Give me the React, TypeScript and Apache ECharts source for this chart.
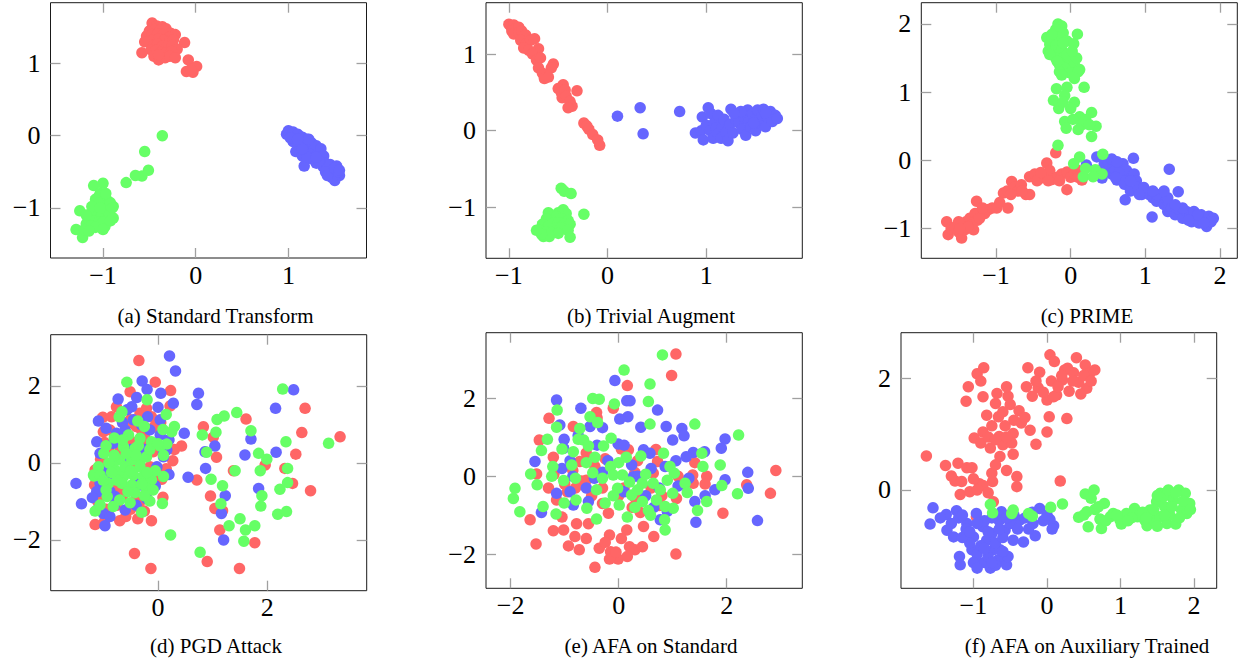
import React, { useEffect, useRef } from "react";
import * as echarts from "echarts";

const RED = "#ff6666";
const BLUE = "#6666ff";
const GREEN = "#66ff66";
const FONT = '"Liberation Serif", "Times New Roman", serif';

const captions = [
  "(a) Standard Transform",
  "(b) Trivial Augment",
  "(c) PRIME",
  "(d) PGD Attack",
  "(e) AFA on Standard",
  "(f) AFA on Auxiliary Trained",
];

const xTicks = [[-1, 0, 1], [-1, 0, 1], [-1, 0, 1, 2], [0, 2], [-2, 0, 2], [-1, 0, 1, 2]];
const yTicks = [[-1, 0, 1], [-1, 0, 1], [-1, 0, 1, 2], [-2, 0, 2], [-2, 0, 2], [0, 2]];
const xRange = [[-1.566, 1.842], [-1.232, 1.973], [-2.0, 2.231], [-1.963, 3.817], [-2.457, 3.4], [-1.985, 2.307]];
const yRange = [[-1.694, 1.842], [-1.665, 1.67], [-1.437, 2.311], [-3.317, 3.332], [-2.88, 3.69], [-1.761, 2.817]];

// (a) Standard Transform
const aRed = [[-0.47,1.56],[-0.42,1.52],[-0.36,1.51],[-0.5,1.45],[-0.44,1.47],[-0.38,1.46],[-0.32,1.48],[-0.27,1.42],[-0.22,1.4],[-0.53,1.38],[-0.47,1.4],[-0.41,1.41],[-0.35,1.4],[-0.29,1.36],[-0.12,1.29],[-0.5,1.31],[-0.45,1.33],[-0.4,1.34],[-0.34,1.32],[-0.28,1.3],[-0.24,1.33],[-0.55,1.3],[-0.46,1.25],[-0.41,1.27],[-0.36,1.24],[-0.31,1.22],[-0.25,1.25],[-0.2,1.2],[-0.48,1.19],[-0.43,1.18],[-0.37,1.16],[-0.32,1.15],[-0.26,1.17],[-0.58,1.15],[-0.45,1.1],[-0.4,1.05],[-0.33,1.08],[-0.28,1.1],[-0.22,1.08],[-0.4,1.12],[-0.08,1.05],[0.01,0.96],[-0.03,0.88],[-0.1,0.89],[-0.05,0.92]];
const aBlue = [[0.98,0.02],[1.0,0.07],[1.03,0.0],[1.05,0.05],[1.07,-0.03],[1.1,0.02],[1.12,-0.08],[1.15,-0.02],[1.13,-0.15],[1.17,-0.1],[1.2,-0.05],[1.18,-0.2],[1.22,-0.15],[1.25,-0.1],[1.08,-0.22],[1.15,-0.28],[1.23,-0.25],[1.27,-0.2],[1.3,-0.14],[1.17,-0.42],[1.28,-0.3],[1.32,-0.25],[1.35,-0.18],[1.3,-0.38],[1.35,-0.33],[1.38,-0.28],[1.4,-0.38],[1.37,-0.42],[1.42,-0.45],[1.45,-0.4],[1.44,-0.5],[1.48,-0.47],[1.5,-0.55],[1.52,-0.42],[1.55,-0.55],[1.5,-0.62],[1.47,-0.58],[1.25,-0.32],[1.2,-0.3],[1.1,-0.12],[1.4,-0.5],[1.33,-0.35],[1.53,-0.5],[1.05,-0.08],[1.15,-0.18],[1.3,-0.3],[1.42,-0.55],[1.5,-0.45],[1.55,-0.48],[1.22,-0.05],[1.02,-0.03],[1.1,-0.05]];
const aGreen = [[-0.36,0.0],[-0.55,-0.22],[-0.51,-0.48],[-0.58,-0.56],[-0.65,-0.55],[-0.75,-0.65],[-1.0,-0.66],[-1.1,-0.69],[-1.25,-1.04],[-1.29,-1.3],[-1.22,-1.41],[-0.89,-0.98],[-0.98,-1.26],[-0.89,-1.14],[-1.05,-0.85],[-1.0,-0.88],[-0.95,-0.9],[-1.08,-0.95],[-1.02,-0.95],[-0.96,-0.97],[-0.92,-0.93],[-1.1,-1.02],[-1.05,-1.03],[-1.0,-1.05],[-0.95,-1.05],[-1.12,-1.1],[-1.07,-1.1],[-1.02,-1.12],[-0.97,-1.12],[-1.15,-1.17],[-1.1,-1.18],[-1.05,-1.2],[-1.0,-1.2],[-1.18,-1.22],[-1.13,-1.25],[-1.08,-1.27],[-1.2,-1.3],[-1.15,-1.32],[-1.03,-0.8],[-1.08,-0.88],[-0.93,-1.08],[-0.9,-1.0],[-0.92,-1.18],[-1.0,-1.3],[-1.05,-0.93],[-0.97,-0.8],[-1.12,-0.98],[-1.18,-1.1],[-1.03,-1.0]];

// (b) Trivial Augment
const bRed = [[-1.0,1.39],[-0.98,1.36],[-0.95,1.38],[-0.97,1.3],[-0.93,1.33],[-0.9,1.35],[-0.95,1.26],[-0.9,1.28],[-0.87,1.3],[-0.86,1.22],[-0.83,1.25],[-0.88,1.18],[-0.82,1.14],[-0.78,1.18],[-0.74,1.2],[-0.85,1.08],[-0.8,1.05],[-0.7,1.07],[-0.76,1.0],[-0.72,0.92],[-0.68,0.95],[-0.55,0.87],[-0.57,0.82],[-0.7,0.82],[-0.66,0.75],[-0.64,0.68],[-0.6,0.7],[-0.45,0.6],[-0.5,0.55],[-0.47,0.5],[-0.43,0.53],[-0.31,0.52],[-0.46,0.43],[-0.42,0.45],[-0.38,0.38],[-0.36,0.32],[-0.4,0.3],[-0.24,0.1],[-0.21,0.06],[-0.19,0.02],[-0.15,-0.05],[-0.08,-0.19],[-0.1,-0.12]];
const bBlue = [[0.1,0.19],[0.33,0.3],[0.36,-0.04],[0.73,0.25],[0.89,-0.03],[0.95,0.0],[0.97,-0.12],[0.96,0.18],[1.0,0.07],[1.02,0.3],[1.04,0.0],[1.05,0.22],[1.07,-0.1],[1.08,0.1],[1.1,0.04],[1.12,-0.04],[1.12,0.2],[1.15,-0.1],[1.16,0.05],[1.18,0.15],[1.2,-0.02],[1.22,-0.13],[1.24,0.08],[1.25,0.28],[1.27,-0.03],[1.3,0.15],[1.33,0.1],[1.36,0.02],[1.38,0.18],[1.4,-0.06],[1.42,0.27],[1.43,0.12],[1.45,0.05],[1.47,0.22],[1.5,0.15],[1.5,0.0],[1.52,0.27],[1.55,0.1],[1.57,0.2],[1.58,0.28],[1.6,0.05],[1.62,0.18],[1.65,0.25],[1.67,0.12],[1.7,0.2],[1.72,0.16],[1.35,0.25],[1.28,0.23],[1.6,0.23],[1.48,0.1]];
const bGreen = [[-0.47,-0.75],[-0.44,-0.79],[-0.37,-0.82],[-0.24,-1.09],[-0.45,-1.03],[-0.42,-1.08],[-0.5,-1.07],[-0.6,-1.07],[-0.57,-1.12],[-0.52,-1.12],[-0.47,-1.15],[-0.4,-1.17],[-0.62,-1.15],[-0.55,-1.2],[-0.5,-1.2],[-0.44,-1.22],[-0.38,-1.22],[-0.66,-1.22],[-0.6,-1.25],[-0.53,-1.27],[-0.47,-1.27],[-0.4,-1.3],[-0.69,-1.3],[-0.63,-1.32],[-0.57,-1.33],[-0.5,-1.34],[-0.38,-1.39],[-0.65,-1.38],[-0.59,-1.38],[-0.67,-1.35],[-0.72,-1.3]];

// (c) PRIME
const cRed = [[-1.64,-1.09],[-1.66,-0.9],[-1.6,-1.0],[-1.55,-0.98],[-1.5,-1.05],[-1.46,-1.14],[-1.45,-0.95],[-1.4,-0.9],[-1.42,-1.02],[-1.35,-0.85],[-1.33,-0.95],[-1.3,-1.02],[-1.28,-0.78],[-1.26,-0.6],[-1.25,-0.88],[-1.2,-0.75],[-1.15,-0.78],[-1.1,-0.72],[-1.05,-0.7],[-0.99,-0.7],[-0.84,-0.7],[-0.9,-0.48],[-0.85,-0.45],[-0.79,-0.31],[-0.75,-0.4],[-0.7,-0.45],[-0.66,-0.36],[-0.6,-0.5],[-0.55,-0.5],[-0.55,-0.24],[-0.48,-0.2],[-0.42,-0.27],[-0.35,-0.24],[-0.32,-0.04],[-0.28,-0.15],[-0.25,-0.28],[-0.2,0.11],[-0.18,-0.25],[-0.12,-0.2],[-0.05,-0.43],[-0.05,-0.17],[0.0,-0.25],[0.05,-0.2],[0.15,-0.29],[0.1,-0.15],[0.37,-0.15],[-1.5,-0.9],[-1.38,-0.98],[-1.48,-1.0],[-1.22,-0.85],[-1.18,-0.7],[-0.95,-0.62],[-0.8,-0.5],[-0.65,-0.45],[-0.45,-0.3],[-0.3,-0.3],[-0.15,-0.3],[0.1,-0.25],[-0.4,-0.18]];
const cBlue = [[0.21,-0.07],[0.35,0.05],[0.42,-0.26],[0.45,-0.05],[0.5,0.0],[0.52,-0.12],[0.55,-0.2],[0.58,-0.05],[0.6,-0.15],[0.62,-0.29],[0.65,-0.1],[0.68,-0.22],[0.7,-0.05],[0.72,-0.35],[0.73,-0.58],[0.75,-0.15],[0.78,-0.28],[0.8,-0.45],[0.84,0.03],[0.85,-0.2],[0.88,-0.3],[0.9,-0.4],[0.95,-0.5],[1.0,-0.45],[1.05,-0.5],[1.09,-0.83],[1.1,-0.55],[1.15,-0.6],[1.2,-0.5],[1.25,-0.65],[1.29,-0.58],[1.32,-0.13],[1.3,-0.75],[1.35,-0.7],[1.4,-0.8],[1.44,-0.46],[1.45,-0.72],[1.5,-0.85],[1.55,-0.75],[1.6,-0.8],[1.62,-0.9],[1.68,-0.85],[1.72,-0.92],[1.75,-0.8],[1.8,-0.88],[1.82,-0.97],[1.85,-0.82],[1.91,-0.85],[1.88,-0.9],[0.55,0.02],[0.65,-0.18],[0.7,-0.3],[0.6,-0.25],[0.8,-0.3],[0.98,-0.4],[1.15,-0.5],[1.3,-0.55],[1.25,-0.45],[1.5,-0.7],[1.65,-0.75],[1.78,-0.92],[1.7,-0.8],[1.58,-0.88],[1.4,-0.65],[1.1,-0.45],[0.92,-0.5],[0.62,-0.02]];
const cGreen = [[-0.17,2.0],[-0.12,1.97],[-0.2,1.92],[-0.1,1.87],[0.09,1.85],[-0.32,1.8],[-0.25,1.78],[-0.15,1.8],[-0.05,1.75],[-0.28,1.7],[-0.2,1.68],[0.04,1.71],[-0.3,1.6],[-0.22,1.6],[-0.12,1.62],[-0.2,1.5],[-0.1,1.5],[0.0,1.45],[0.05,1.4],[-0.15,1.4],[-0.08,1.35],[0.12,1.33],[-0.15,1.3],[0.0,1.28],[0.18,1.07],[-0.19,1.05],[-0.05,1.07],[-0.08,0.95],[-0.23,0.88],[0.05,0.85],[-0.16,0.76],[0.0,0.76],[0.28,0.7],[0.12,0.64],[0.2,0.6],[-0.08,0.57],[0.03,0.6],[-0.06,0.47],[0.34,0.5],[0.28,0.35],[-0.17,0.22],[0.12,0.05],[0.04,-0.05],[0.43,0.09],[0.17,-0.24],[0.33,-0.14],[0.42,-0.2],[0.3,-0.24],[0.2,-0.12],[-0.25,1.85],[-0.1,1.72],[-0.28,1.55],[-0.18,1.45],[-0.05,1.55],[0.08,1.5],[-0.12,1.25],[0.1,1.3],[0.02,1.6],[0.05,1.2],[-0.1,0.85],[0.15,0.52],[0.1,0.45],[0.25,0.52]];

// (d) PGD Attack
const dRed = [[-0.35,2.66],[-0.05,2.1],[-0.51,1.85],[0.23,1.88],[0.22,1.48],[-1.01,1.19],[-0.88,0.86],[-0.98,0.53],[0.43,0.44],[0.27,0.06],[0.83,0.94],[1.01,0.67],[1.61,1.14],[2.69,1.42],[2.63,0.79],[3.33,0.68],[2.52,0.23],[2.79,-0.72],[2.46,-0.53],[2.32,-0.14],[1.96,-0.05],[1.38,-0.2],[1.07,0.15],[0.71,-0.44],[0.96,-0.86],[1.04,-1.18],[1.18,-1.24],[1.13,-1.74],[1.77,-2.07],[1.49,-2.74],[0.9,-2.56],[-0.13,-2.74],[-0.43,-2.35],[-0.12,-1.5],[-0.37,-1.45],[-0.7,-1.5],[-1.15,-1.6],[-0.98,-1.52],[0.07,-0.42],[0.09,-0.89],[-0.07,-0.27],[-1.16,-0.57],[-1.12,-0.86],[-0.51,1.12],[-0.76,1.46],[-0.33,1.29],[-0.21,1.42],[-0.12,1.2],[-0.45,1.03],[-0.07,0.94],[-1.0,0.81],[-0.24,0.64],[-0.48,0.55],[-0.09,0.29],[-0.33,0.25],[-0.57,0.16],[-0.94,-0.01],[-1.15,-0.18],[-0.05,-0.23],[-1.09,-0.61],[-1.06,-0.87],[-0.57,-0.66],[-0.33,-1.0],[-0.59,-1.39],[-0.39,-0.87],[-0.21,-0.79],[-0.73,-0.61],[-0.85,1.2],[-0.6,1.0],[-0.3,0.85],[0.05,1.05],[-0.2,0.45],[-0.7,0.3],[-1.05,0.1],[-0.85,-0.3],[-0.45,-0.15],[-0.15,-0.1],[0.15,-0.15],[-0.95,-1.2],[-0.75,-1.1],[-0.5,-1.2],[-0.25,-1.25],[-1.1,-1.0],[-0.4,0.95],[0.3,0.35],[-0.65,-0.85],[-0.9,0.4]];
const dBlue = [[0.21,2.78],[0.32,2.39],[-0.29,2.13],[-0.2,1.91],[-0.73,1.66],[-0.39,1.7],[0.05,1.81],[0.28,1.55],[-1.09,1.09],[-1.12,0.55],[-0.76,0.77],[0.48,0.77],[0.74,1.81],[0.71,1.52],[-1.5,-0.53],[-1.4,-1.06],[-0.97,-1.63],[0.55,-0.37],[0.87,-0.14],[0.86,0.29],[1.04,0.44],[1.59,0.21],[1.7,0.62],[2.15,1.42],[2.48,1.9],[2.16,0.28],[1.84,-0.66],[1.2,-2.0],[1.23,-0.85],[1.16,-1.31],[-1.09,-0.74],[0.1,0.25],[0.04,1.12],[-0.57,1.38],[-1.06,-0.53],[-1.12,-0.74],[-0.88,-0.74],[-0.79,-0.87],[-1.0,-1.31],[-0.88,-1.39],[-0.45,1.12],[-0.3,0.99],[-0.15,0.86],[0.04,0.73],[0.16,0.34],[0.1,0.16],[-0.79,0.08],[-0.7,-0.35],[-0.33,-0.57],[-0.21,-0.92],[-0.6,-1.22],[-0.02,-0.1],[-0.82,0.51],[-1.06,0.25],[-0.48,1.46],[-0.19,1.2],[-0.95,0.9],[-0.6,0.85],[-0.25,0.35],[-0.55,0.05],[-1.0,-0.2],[-0.4,-0.4],[-0.05,-0.6],[-0.8,-1.1],[-1.1,-1.2],[-0.4,-1.1],[0.2,0.6],[-0.65,1.05],[0.0,1.45],[-0.9,-0.45],[0.2,-0.3],[-1.2,-0.9],[-0.5,0.35]];
const dGreen = [[-0.57,2.1],[-0.2,1.64],[0.15,1.26],[-0.71,1.2],[-0.37,1.09],[0.09,0.87],[-0.99,0.25],[-1.17,-0.34],[-1.15,-1.25],[-0.93,-0.87],[-0.3,-1.28],[-0.15,-0.99],[0.08,-1.05],[0.23,-1.87],[0.77,-2.32],[0.81,0.73],[0.89,0.28],[0.97,-0.42],[1.06,0.8],[1.08,1.13],[1.21,1.22],[1.44,1.31],[1.7,0.84],[1.18,-0.59],[1.15,-1.06],[1.41,-0.2],[1.3,-1.63],[1.5,-1.45],[1.6,-1.74],[1.77,-1.63],[1.57,-2.03],[1.84,0.25],[1.99,0.1],[1.87,-0.2],[1.9,-0.85],[1.88,-1.12],[2.19,-1.33],[2.35,-1.26],[2.23,-0.68],[2.37,-0.51],[2.37,-0.14],[2.34,0.55],[2.28,1.92],[3.12,0.51],[-0.33,0.03],[-0.66,1.33],[0.25,0.81],[-0.54,0.73],[-0.33,0.64],[-0.12,0.55],[0.04,0.44],[0.16,0.49],[-0.63,0.42],[-0.42,0.38],[-0.21,0.16],[-0.48,0.08],[-0.7,0.08],[-0.82,-0.1],[-1.09,-0.1],[-1.18,-0.31],[-1.06,-0.31],[-0.91,-0.53],[-0.63,-0.35],[-0.45,-0.31],[-0.27,-0.35],[-0.12,-0.44],[-0.66,-0.53],[-0.48,-0.57],[-0.21,-0.66],[-0.09,-0.7],[-0.42,-0.77],[-0.7,-0.96],[-0.82,-1.13],[-1.06,-1.09],[-0.51,-1.03],[-0.33,-0.1],[-0.73,-0.23],[-0.58,0.25],[-0.36,0.45],[-0.15,0.35],[-0.9,0.0],[-0.6,-0.1],[-0.3,-0.55],[0.0,0.5],[-0.8,0.65],[-0.95,0.45],[-0.75,-0.45],[-0.55,-0.75],[-0.95,-0.7],[-1.0,-0.45],[-0.25,-0.85],[-0.05,-0.2],[0.1,-0.35],[-0.2,-0.25],[-0.5,-0.2],[-0.8,0.2],[-0.4,0.2],[0.1,0.2],[-0.65,0.6],[-0.25,0.95],[0.3,0.95],[-0.85,-0.25]];

// (e) AFA on Standard
const eRed = [[1.06,3.14],[0.98,2.59],[0.16,2.33],[-0.1,1.75],[-0.41,1.64],[-1.29,1.49],[-1.47,0.93],[-1.21,0.49],[-1.64,-1.12],[-1.53,-1.74],[-1.21,-1.4],[-1.02,-1.38],[-0.93,-1.79],[-0.81,-1.55],[-0.73,-1.89],[-0.78,-1.22],[-0.56,-1.22],[-0.44,-2.34],[-0.36,-1.85],[-0.17,-1.51],[-0.15,-1.94],[-0.01,-2.13],[-0.17,-2.13],[0.2,-1.81],[0.3,-1.89],[0.44,-1.81],[0.16,-2.06],[0.15,-1.38],[0.46,-1.29],[1.06,-2.0],[1.93,-0.95],[2.91,0.15],[2.81,-0.44],[2.37,-0.22],[1.63,0.0],[1.41,0.35],[1.37,0.03],[0.69,0.69],[0.18,0.68],[0.72,0.38],[0.64,0.08],[0.4,-0.93],[-0.19,-0.95],[-0.69,-0.12],[-0.72,0.38],[-0.84,1.28],[-0.44,0.25],[-1.15,-0.61],[-1.52,0.06],[1.07,-0.57],[1.38,-0.18],[-0.4,1.5],[-1.2,0.05],[-0.95,-0.4],[-0.5,-0.5],[-0.3,-0.7],[0.1,-0.3],[0.3,0.1],[1.2,-0.2],[0.8,-0.5],[-0.6,0.6],[-0.25,-1.7],[0.05,-1.6],[-0.05,-1.95],[0.3,-0.55],[-1.3,-0.3],[-1.0,-0.2],[-0.8,-0.3],[-0.6,-0.1],[-0.3,-0.3],[0.0,-0.5],[0.25,-0.8],[0.6,-0.3],[0.75,-0.75],[0.35,0.4],[0.05,0.7],[-0.25,0.45],[-1.05,-1.05],[-0.6,-1.6],[0.65,-1.55],[-0.85,0.15],[1.1,0.0],[1.6,-0.2]];
const eBlue = [[-1.15,1.96],[-0.7,1.75],[-0.07,2.46],[0.15,1.94],[0.21,1.94],[0.17,1.53],[0.02,1.47],[0.41,1.26],[0.72,1.7],[0.88,1.28],[1.17,1.23],[1.21,1.04],[1.0,0.93],[1.97,0.96],[1.9,0.72],[1.59,0.63],[1.38,0.61],[1.06,0.4],[0.86,0.25],[2.39,0.1],[1.97,-0.09],[1.78,-0.35],[1.6,-0.5],[1.41,-0.65],[1.43,-1.18],[2.57,-1.14],[2.4,-0.31],[0.77,-1.12],[-1.55,0.38],[-1.15,-0.44],[-1.02,0.72],[-1.01,0.95],[-1.09,1.32],[-0.53,1.28],[-0.01,0.83],[0.24,0.29],[0.27,-0.01],[0.46,0.68],[0.58,0.59],[-0.56,-0.65],[-0.84,-0.74],[-1.43,-0.93],[-1.05,0.2],[-0.85,0.0],[-0.3,0.1],[0.5,-0.5],[0.9,-0.9],[1.3,-0.05],[-0.6,-0.3],[-0.9,0.4],[-0.75,1.05],[-0.4,0.8],[-0.2,0.4],[0.1,0.8],[0.35,0.0],[0.6,0.2],[0.75,-0.3],[1.1,-0.25],[1.25,0.5],[-0.45,-0.05],[0.1,-0.4],[-0.9,-0.4],[0.65,-0.8],[-0.3,1.25]];
const eGreen = [[0.81,3.12],[0.1,2.73],[0.58,2.37],[-0.48,2.0],[-0.36,1.98],[-0.08,1.86],[0.55,1.92],[0.58,1.34],[1.41,1.34],[2.22,1.06],[-1.14,1.7],[-0.53,1.53],[-0.39,1.38],[-1.15,1.26],[-0.72,1.23],[-1.32,0.95],[-1.43,0.66],[-0.65,0.93],[-0.56,0.78],[-0.28,0.78],[-0.14,0.98],[-0.84,0.63],[-0.44,0.49],[0.14,0.49],[0.41,0.52],[0.83,0.59],[1.54,0.59],[1.56,0.25],[1.88,0.29],[0.95,0.25],[1.03,0.08],[-0.87,0.29],[-1.22,0.25],[-1.63,0.06],[-1.51,-0.22],[-1.24,0.0],[-1.02,-0.11],[-1.92,-0.31],[-1.95,-0.57],[-1.83,-0.91],[-1.4,-0.78],[-1.16,-0.97],[-1.01,-0.69],[-0.79,-0.61],[-0.59,-0.82],[-0.41,-1.1],[-0.48,0.09],[-0.41,-0.35],[-0.25,-0.69],[0.01,-0.74],[-0.15,0.25],[-0.1,0.03],[0.07,0.03],[-0.02,-0.31],[0.16,-1.05],[0.24,-0.48],[0.35,-0.35],[0.44,-0.18],[0.55,-0.88],[0.59,-1.0],[0.7,-0.61],[0.77,-0.35],[0.86,-0.78],[0.86,-1.38],[0.85,-1.12],[1.01,-0.82],[1.0,-0.44],[1.23,-0.18],[1.27,-0.42],[1.46,-0.88],[1.63,-0.65],[1.91,-0.24],[2.2,-0.45],[0.64,-0.18],[0.44,-0.65],[-0.8,-0.05],[-0.6,0.35],[-0.3,-0.05],[0.0,0.35],[0.2,-0.15],[0.5,0.05],[0.9,-0.1],[-0.1,-0.5],[0.3,-0.8],[-0.75,0.95],[-1.05,0.7]];

// (f) AFA on Auxiliary Trained
const fRed = [[-1.64,0.61],[-1.38,0.44],[-1.21,0.48],[-1.09,0.4],[-1.02,0.4],[-1.25,0.16],[-1.16,0.15],[-1.18,-0.08],[-1.05,-0.03],[-0.92,0.11],[-0.87,0.08],[-0.75,0.3],[-0.74,0.15],[-0.73,-0.21],[-0.96,-0.48],[-0.41,0.24],[-0.41,0.06],[0.18,0.16],[-1.1,1.59],[-1.07,1.85],[-0.95,2.08],[-0.86,2.19],[-0.87,1.67],[-0.82,1.34],[-0.99,0.93],[-0.87,1.04],[-0.9,0.84],[-0.77,0.75],[-0.64,0.6],[-0.65,0.96],[-0.68,1.73],[-0.53,1.68],[-0.5,1.53],[-0.66,1.31],[-0.57,1.15],[-0.38,1.42],[-0.46,1.01],[-0.46,0.64],[-0.6,0.81],[-0.48,0.84],[-0.23,1.07],[-0.15,0.82],[0.0,1.04],[0.03,1.31],[0.27,1.28],[-0.26,2.19],[-0.1,2.11],[0.04,2.42],[0.06,1.95],[-0.28,1.85],[-0.12,1.83],[-0.2,1.68],[0.0,1.61],[0.13,1.7],[0.21,1.97],[0.28,2.18],[0.4,2.37],[0.52,2.24],[0.58,2.09],[0.54,1.82],[0.46,1.72],[0.3,1.77],[0.43,1.93],[0.36,2.1],[0.24,2.15],[0.09,1.67],[-1.3,0.25],[-1.0,0.2],[-0.95,0.0],[-0.8,-0.05],[-0.7,0.45],[-0.55,0.35],[-0.8,0.95],[-0.75,1.15],[-0.6,1.4],[-0.45,1.25],[-0.35,1.2],[-0.7,1.55],[-0.55,1.85],[-0.9,1.95],[-0.15,1.95],[0.15,1.85],[0.35,1.95],[0.5,2.05],[0.2,2.05],[-0.05,1.75],[0.1,2.3],[0.65,2.15],[0.6,1.95],[-0.7,0.9],[-0.55,0.95],[-0.3,1.3]];
const fBlue = [[-1.55,-0.32],[-1.59,-0.61],[-1.37,-0.44],[-1.23,-0.37],[-1.36,-0.72],[-1.27,-0.84],[-1.19,-1.19],[-1.18,-1.34],[-1.02,-1.07],[-0.93,-1.31],[-0.77,-1.4],[-0.66,-1.25],[-0.55,-1.34],[-0.53,-1.19],[-0.73,-1.07],[-0.87,-0.66],[-0.75,-0.78],[-0.62,-0.39],[-0.57,-0.72],[-0.46,-0.9],[-0.32,-0.93],[-0.37,-0.54],[-0.16,-0.82],[-0.1,-0.33],[0.09,-0.64],[0.04,-0.53],[-0.19,-0.6],[-0.96,-0.42],[-1.09,-0.6],[-1.0,-0.84],[-0.82,-0.9],[-0.64,-1.07],[-1.2,-0.5],[-1.1,-0.7],[-1.05,-0.95],[-0.95,-1.15],[-0.85,-1.3],[-0.8,-1.2],[-0.9,-1.0],[-0.7,-0.95],[-0.6,-0.85],[-0.65,-0.55],[-0.5,-0.6],[-0.45,-0.45],[-0.3,-0.5],[-0.25,-0.7],[-0.05,-0.55],[0.0,-0.45],[-1.3,-0.6],[-1.15,-0.85],[-0.75,-0.5],[-0.85,-0.55],[-1.0,-1.3],[-0.7,-1.35],[-1.45,-0.5],[-1.15,-0.45],[-1.05,-0.75],[-0.95,-0.6],[-0.8,-0.75],[-0.65,-0.7],[-0.55,-0.5],[-0.4,-0.7],[-0.85,-1.05],[-0.95,-1.4],[-0.6,-1.1],[-0.75,-1.3],[-0.2,-0.4],[0.07,-0.7]];
const fGreen = [[-0.77,-0.26],[-0.74,-0.41],[-0.46,-0.36],[-0.48,-0.42],[-0.25,-0.42],[-0.2,-0.47],[0.05,-0.31],[0.21,-0.25],[0.52,-0.07],[0.64,0.0],[0.6,-0.15],[0.78,-0.24],[0.43,-0.49],[0.54,-0.39],[0.56,-0.66],[0.72,-0.52],[0.74,-0.69],[0.86,-0.48],[0.99,-0.53],[1.01,-0.61],[1.19,-0.33],[1.23,-0.48],[1.33,-0.54],[1.36,-0.64],[1.45,-0.54],[1.49,-0.21],[1.54,-0.06],[1.6,-0.3],[1.63,-0.6],[1.67,-0.45],[1.72,-0.18],[1.79,0.0],[1.75,-0.61],[1.83,-0.36],[1.88,-0.06],[1.94,-0.24],[1.9,-0.42],[1.54,-0.48],[1.27,-0.42],[1.08,-0.42],[0.9,-0.42],[1.67,-0.1],[1.58,-0.12],[1.4,-0.36],[0.65,-0.35],[0.8,-0.55],[0.95,-0.45],[1.15,-0.5],[1.3,-0.4],[1.45,-0.35],[1.5,-0.65],[1.6,-0.45],[1.7,-0.3],[1.8,-0.5],[1.85,-0.2],[1.95,-0.35],[1.65,0.0],[1.5,-0.1],[1.75,-0.05],[1.35,-0.5],[1.1,-0.55],[0.7,-0.3],[0.5,-0.45]];

const panelData = [
  [aRed, aBlue, aGreen],
  [bRed, bBlue, bGreen],
  [cRed, cBlue, cGreen],
  [dRed, dBlue, dGreen],
  [eRed, eBlue, eGreen],
  [fRed, fBlue, fGreen],
];

// layout (pixels)
const boxes = [
  { left: 50.5, top: 2.7, width: 316, height: 255.3 },
  { left: 486, top: 2.7, width: 316.3, height: 255.6 },
  { left: 921.3, top: 2.7, width: 316, height: 255.6 },
  { left: 50.7, top: 334.7, width: 316, height: 256 },
  { left: 486, top: 332.7, width: 316.3, height: 255.6 },
  { left: 901, top: 332.7, width: 315.7, height: 255.6 },
];
const captionPos = [
  [215.5, 316], [651, 316], [1087, 316],
  [216, 646], [651, 646], [1087, 646],
];

const fmt = (v: number) => (v < 0 ? "\u2212" + Math.abs(v) : String(v));

export default function App() {
  const ref = useRef<HTMLDivElement>(null);
  useEffect(() => {
    document.body.style.margin = "0";
    if (!ref.current) return;
    const chart = echarts.init(ref.current, undefined, { renderer: "svg" });
    const tickStyle = { color: "#a0a0a0", width: 1.3 };
    const grid: any[] = [];
    const xAxis: any[] = [];
    const yAxis: any[] = [];
    const series: any[] = [];
    const colors = [RED, BLUE, GREEN];
    for (let i = 0; i < 6; i++) {
      grid.push({ ...boxes[i], show: true, borderColor: "#1a1a1a", borderWidth: 1, containLabel: false });
    }
    const noLine = { show: false, onZero: false };
    for (let i = 0; i < 6; i++) {
      xAxis.push({
        type: "value", gridIndex: i, position: "bottom", min: xRange[i][0], max: xRange[i][1],
        axisLine: noLine, splitLine: { show: false },
        axisTick: { show: true, inside: true, length: 10, lineStyle: tickStyle, customValues: xTicks[i] },
        axisLabel: { show: true, margin: 4, customValues: xTicks[i], formatter: fmt, color: "#000", fontSize: 26, fontFamily: FONT },
      });
      yAxis.push({
        type: "value", gridIndex: i, position: "left", min: yRange[i][0], max: yRange[i][1],
        axisLine: noLine, splitLine: { show: false },
        axisTick: { show: true, inside: true, length: 10, lineStyle: tickStyle, customValues: yTicks[i] },
        axisLabel: { show: true, margin: 10, customValues: yTicks[i], formatter: fmt, color: "#000", fontSize: 26, fontFamily: FONT },
      });
    }
    for (let i = 0; i < 6; i++) {
      xAxis.push({
        type: "value", gridIndex: i, position: "top", min: xRange[i][0], max: xRange[i][1],
        axisLine: noLine, splitLine: { show: false }, axisLabel: { show: false },
        axisTick: { show: true, inside: true, length: 10, lineStyle: tickStyle, customValues: xTicks[i] },
      });
      yAxis.push({
        type: "value", gridIndex: i, position: "right", min: yRange[i][0], max: yRange[i][1],
        axisLine: noLine, splitLine: { show: false }, axisLabel: { show: false },
        axisTick: { show: true, inside: true, length: 10, lineStyle: tickStyle, customValues: yTicks[i] },
      });
    }
    for (let i = 0; i < 6; i++) {
      panelData[i].forEach((d, k) => {
        series.push({
          type: "scatter", xAxisIndex: i, yAxisIndex: i, data: d, symbol: "circle", symbolSize: 11.5,
          itemStyle: { color: colors[k], opacity: 1 }, silent: true, emphasis: { disabled: true },
        });
      });
    }
    const graphic = captions.map((c, i) => ({
      type: "text", x: captionPos[i][0], y: captionPos[i][1],
      style: { text: c, fill: "#000", font: `21px ${FONT}`, textAlign: "center", textVerticalAlign: "middle" },
    }));
    chart.setOption({ animation: false, grid, xAxis, yAxis, series, graphic, tooltip: { show: false } });
    return () => chart.dispose();
  }, []);
  return <div ref={ref} style={{ width: 1238, height: 661, background: "#fff" }} />;
}
